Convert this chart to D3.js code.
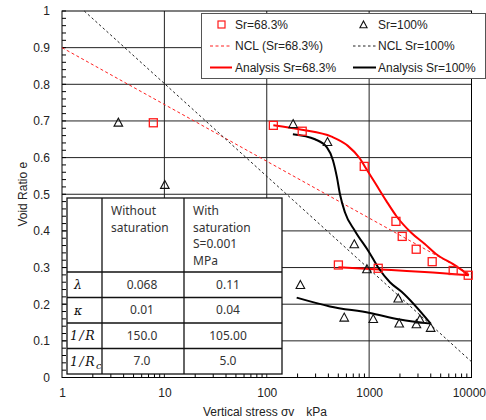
<!DOCTYPE html>
<html><head><meta charset="utf-8">
<script src="https://cdn.jsdelivr.net/npm/d3@7"></script>
<style>
html,body{margin:0;padding:0;background:#fff;}
svg{display:block;font-family:"Liberation Sans",Arial,sans-serif;}
</style></head>
<body><svg id="c" width="486" height="420"></svg>
<script>
// ---- data ----
const xTickValues = [1, 10, 100, 1000, 10000];
const xTickLabels = ["1", "10", "100", "1000", "10000"];
const yTickValues = [0, 0.1, 0.2, 0.3, 0.4, 0.5, 0.6, 0.7, 0.8, 0.9, 1];
const yTickLabels = ["0", "0.1", "0.2", "0.3", "0.4", "0.5", "0.6", "0.7", "0.8", "0.9", "1"];

const sr68Stress = [7.8, 116, 222, 896, 1828, 2105, 2884, 4131, 6625, 9290, 501, 1227];
const sr68Void   = [0.695, 0.688, 0.672, 0.576, 0.426, 0.385, 0.350, 0.316, 0.292, 0.279, 0.307, 0.298];

const sr100Stress = [3.55, 10.1, 181, 392, 716, 952, 213, 1924, 571, 1097, 1968, 2897, 3133, 3990];
const sr100Void   = [0.696, 0.526, 0.692, 0.643, 0.364, 0.296, 0.253, 0.216, 0.164, 0.160, 0.148, 0.146, 0.159, 0.136];

const nclSr68Stress = [1, 10000];
const nclSr68Void   = [0.9, 0.28];
const nclSr100Stress = [1.65, 10000];
const nclSr100Void   = [1.0, 0.043];

const anaSr68LoadStress = [116, 220, 430, 620, 800, 950, 1150, 1470, 1850, 2580, 3500, 4500, 7100, 9400];
const anaSr68LoadVoid   = [0.688, 0.676, 0.657, 0.632, 0.600, 0.567, 0.530, 0.482, 0.440, 0.395, 0.364, 0.337, 0.304, 0.279];
const anaSr68UnloadStress = [501, 1266, 1648, 3477, 9400];
const anaSr68UnloadVoid   = [0.301, 0.295, 0.293, 0.288, 0.279];

const anaSr100LoadStress = [180, 296, 387, 443, 485, 519, 580, 727, 1000, 1227, 1596, 2077, 3990];
const anaSr100LoadVoid   = [0.664, 0.650, 0.628, 0.593, 0.546, 0.500, 0.451, 0.400, 0.342, 0.300, 0.260, 0.234, 0.147];
const anaSr100UnloadStress = [196, 414, 1018, 2000, 3990];
const anaSr100UnloadVoid   = [0.218, 0.194, 0.176, 0.158, 0.147];

const legendLabels = ["Sr=68.3%", "Sr=100%", "NCL (Sr=68.3%)", "NCL Sr=100%", "Analysis Sr=68.3%", "Analysis Sr=100%"];

const tableColHeaders = [[], ["Without", "saturation"], ["With", "saturation", "S=0.001", "MPa"]];
const tableRowLabels = ["λ", "κ", "1/R", "1/R"];
const tableRowSubs = ["", "", "", "c"];
const tableWithout = ["0.068", "0.01", "150.0", "7.0"];
const tableWith = ["0.11", "0.04", "105.00", "5.0"];

// ---- chart ----
const svg = d3.select("#c");
const L = 62, R = 471.5, T = 11, B = 377.5;
const x = d3.scaleLog().domain([1, 10000]).range([L, R]);
const y = d3.scaleLinear().domain([0, 1]).range([B, T]);

// grid
const g = svg.append("g");
g.selectAll(".hg").data(yTickValues.slice(1, -1)).join("line")
  .attr("x1", L).attr("x2", R).attr("y1", d => y(d)).attr("y2", d => y(d))
  .attr("stroke", "#222").attr("stroke-width", 1);
g.selectAll(".vg").data(xTickValues.slice(1, -1)).join("line")
  .attr("y1", T).attr("y2", B).attr("x1", d => x(d)).attr("x2", d => x(d))
  .attr("stroke", "#222").attr("stroke-width", 1);

// minor ticks
const yMinor = d3.range(0, 51).map(i => i * 0.02);
g.selectAll(".ym").data(yMinor).join("line")
  .attr("x1", L).attr("x2", L + 4).attr("y1", d => y(d)).attr("y2", d => y(d))
  .attr("stroke", "#000");
const xMinor = [];
[1, 10, 100, 1000].forEach(dec => { for (let k = 2; k <= 9; k++) xMinor.push(dec * k); });
g.selectAll(".xm").data(xMinor).join("line")
  .attr("x1", d => x(d)).attr("x2", d => x(d)).attr("y1", B).attr("y2", B - 4)
  .attr("stroke", "#000");

// frame
svg.append("rect").attr("x", L).attr("y", T).attr("width", R - L).attr("height", B - T)
  .attr("fill", "none").attr("stroke", "#000").attr("stroke-width", 1);

// axes labels
const yAxis = d3.axisLeft(y).tickValues(yTickValues).tickFormat((d, i) => yTickLabels[i]).tickSize(0).tickPadding(12);
svg.append("g").attr("transform", `translate(${L},0)`).call(yAxis)
  .call(s => s.select(".domain").remove())
  .selectAll("text").attr("font-size", 12).attr("fill", "#222").attr("font-family", "Liberation Sans, Arial, sans-serif");
const xAxis = d3.axisBottom(x).tickValues(xTickValues).tickFormat((d, i) => xTickLabels[i]).tickSize(0).tickPadding(11);
svg.append("g").attr("transform", `translate(0,${B})`).call(xAxis)
  .call(s => s.select(".domain").remove())
  .selectAll("text").attr("font-size", 12).attr("fill", "#222").attr("font-family", "Liberation Sans, Arial, sans-serif")
  .filter((d, i) => i === xTickValues.length - 1)
  .attr("text-anchor", "end").attr("dx", 485.5 - x(10000));

svg.append("text").attr("transform", `translate(27,${(T + B) / 2}) rotate(-90)`)
  .attr("text-anchor", "middle").attr("font-size", 12).attr("fill", "#222").text("Void Ratio e");
svg.append("text").attr("x", 265).attr("y", 416).attr("text-anchor", "middle")
  .attr("font-size", 12).attr("fill", "#222").text("Vertical stress σv\u3000kPa");

// lines
const zip = (a, b) => a.map((v, i) => [v, b[i]]);
const line = d3.line().x(d => x(d[0])).y(d => y(d[1]));
const curve = d3.line().x(d => x(d[0])).y(d => y(d[1])).curve(d3.curveMonotoneX);

svg.append("path").attr("d", line(zip(nclSr68Stress, nclSr68Void)))
  .attr("fill", "none").attr("stroke", "#ff2020").attr("stroke-width", 1).attr("stroke-dasharray", "3,2.5");
svg.append("path").attr("d", line(zip(nclSr100Stress, nclSr100Void)))
  .attr("fill", "none").attr("stroke", "#222").attr("stroke-width", 1).attr("stroke-dasharray", "2.5,2.5");

[[anaSr68LoadStress, anaSr68LoadVoid, "#ff0000"], [anaSr68UnloadStress, anaSr68UnloadVoid, "#ff0000"],
 [anaSr100LoadStress, anaSr100LoadVoid, "#000"], [anaSr100UnloadStress, anaSr100UnloadVoid, "#000"]]
 .forEach(([s, v, c]) => {
  svg.append("path").attr("d", curve(zip(s, v)))
    .attr("fill", "none").attr("stroke", c).attr("stroke-width", 2);
 });

// markers
const sq = 8;
svg.selectAll(".sq").data(zip(sr68Stress, sr68Void)).join("rect")
  .attr("x", d => x(d[0]) - sq / 2).attr("y", d => y(d[1]) - sq / 2)
  .attr("width", sq).attr("height", sq).attr("fill", "none").attr("stroke", "#ff1a1a").attr("stroke-width", 1.3);
const tri = "M0,-4.3L4.3,3.7L-4.3,3.7Z";
svg.selectAll(".tr").data(zip(sr100Stress, sr100Void)).join("path")
  .attr("transform", d => `translate(${x(d[0])},${y(d[1])})`)
  .attr("d", tri).attr("fill", "none").attr("stroke", "#111").attr("stroke-width", 1.1);

// legend
const lg = svg.append("g");
lg.append("rect").attr("x", 201.5).attr("y", 13.5).attr("width", 284).attr("height", 65)
  .attr("fill", "#fff").attr("stroke", "#555").attr("stroke-width", 1);
const rowsY = [24.5, 46, 67.5];
const colX = [[210, 232, 235], [353, 376, 378]];
lg.append("rect").attr("x", 221.5 - 3.5).attr("y", rowsY[0] - 3.5).attr("width", 7).attr("height", 7)
  .attr("fill", "none").attr("stroke", "#ff1a1a").attr("stroke-width", 1.2);
lg.append("path").attr("transform", `translate(363.5,${rowsY[0]})`).attr("d", "M0,-3.6L3.6,3.2L-3.6,3.2Z")
  .attr("fill", "none").attr("stroke", "#111").attr("stroke-width", 1.1);
lg.append("line").attr("x1", colX[0][0]).attr("x2", colX[0][1]).attr("y1", rowsY[1]).attr("y2", rowsY[1])
  .attr("stroke", "#ff2020").attr("stroke-dasharray", "3,2.5");
lg.append("line").attr("x1", colX[1][0]).attr("x2", colX[1][1]).attr("y1", rowsY[1]).attr("y2", rowsY[1])
  .attr("stroke", "#222").attr("stroke-dasharray", "2.5,2.5");
lg.append("line").attr("x1", colX[0][0]).attr("x2", colX[0][1]).attr("y1", rowsY[2]).attr("y2", rowsY[2])
  .attr("stroke", "#ff0000").attr("stroke-width", 2);
lg.append("line").attr("x1", colX[1][0]).attr("x2", colX[1][1]).attr("y1", rowsY[2]).attr("y2", rowsY[2])
  .attr("stroke", "#000").attr("stroke-width", 2);
legendLabels.forEach((t, i) => {
  const r = Math.floor(i / 2), c = i % 2;
  lg.append("text").attr("x", colX[c][2]).attr("y", rowsY[r]).attr("dy", "0.35em")
    .attr("font-size", 12).attr("fill", "#222").text(t);
});

// table
const tb = svg.append("g");
const colEdges = [67, 102, 184, 282];
const rowEdges = [198, 272, 297.5, 323, 348.5, 374];
tb.append("rect").attr("x", colEdges[0]).attr("y", rowEdges[0])
  .attr("width", colEdges[3] - colEdges[0]).attr("height", rowEdges[5] - rowEdges[0])
  .attr("fill", "#fff").attr("stroke", "#111").attr("stroke-width", 1.3);
colEdges.slice(1, -1).forEach(cx => tb.append("line").attr("x1", cx).attr("x2", cx)
  .attr("y1", rowEdges[0]).attr("y2", rowEdges[5]).attr("stroke", "#111").attr("stroke-width", 1.3));
rowEdges.slice(1, -1).forEach(ry => tb.append("line").attr("y1", ry).attr("y2", ry)
  .attr("x1", colEdges[0]).attr("x2", colEdges[3]).attr("stroke", "#111").attr("stroke-width", 1.3));
const tFont = "'Noto Sans', 'Noto Sans CJK JP', sans-serif";
[1, 2].forEach(ci => {
  tableColHeaders[ci].forEach((t, li) => {
    tb.append("text").attr("x", colEdges[ci] + 9).attr("y", 211 + li * 16.5).attr("dy", "0.35em")
      .attr("font-family", tFont).attr("font-size", 12).attr("fill", "#333").text(t);
  });
});
svg.append("clipPath").attr("id", "c0").append("rect").attr("x", colEdges[0]).attr("y", rowEdges[0])
  .attr("width", colEdges[1] - colEdges[0] - 1).attr("height", rowEdges[5] - rowEdges[0]);
tableRowLabels.forEach((t, i) => {
  const cy = (rowEdges[i + 1] + rowEdges[i + 2]) / 2;
  const tx = tb.append("text").attr("x", i < 2 ? 74 : 70).attr("y", cy).attr("dy", "0.35em")
    .attr("clip-path", "url(#c0)")
    .attr("font-family", "'DejaVu Serif', 'Liberation Serif', serif").attr("font-style", "italic")
    .attr("font-size", 12.5).attr("fill", "#111")
    .attr("letter-spacing", i < 2 ? 0 : 1.5).text(t);
  if (tableRowSubs[i]) tx.append("tspan").attr("font-size", 10).attr("dy", "3").text(tableRowSubs[i]);
  tb.append("text").attr("x", 142).attr("y", cy).attr("dy", "0.35em").attr("text-anchor", "middle")
    .attr("font-family", tFont).attr("font-size", 12).attr("fill", "#333").text(tableWithout[i]);
  tb.append("text").attr("x", 228).attr("y", cy).attr("dy", "0.35em").attr("text-anchor", "middle")
    .attr("font-family", tFont).attr("font-size", 12).attr("fill", "#333").text(tableWith[i]);
});
</script></body></html>
